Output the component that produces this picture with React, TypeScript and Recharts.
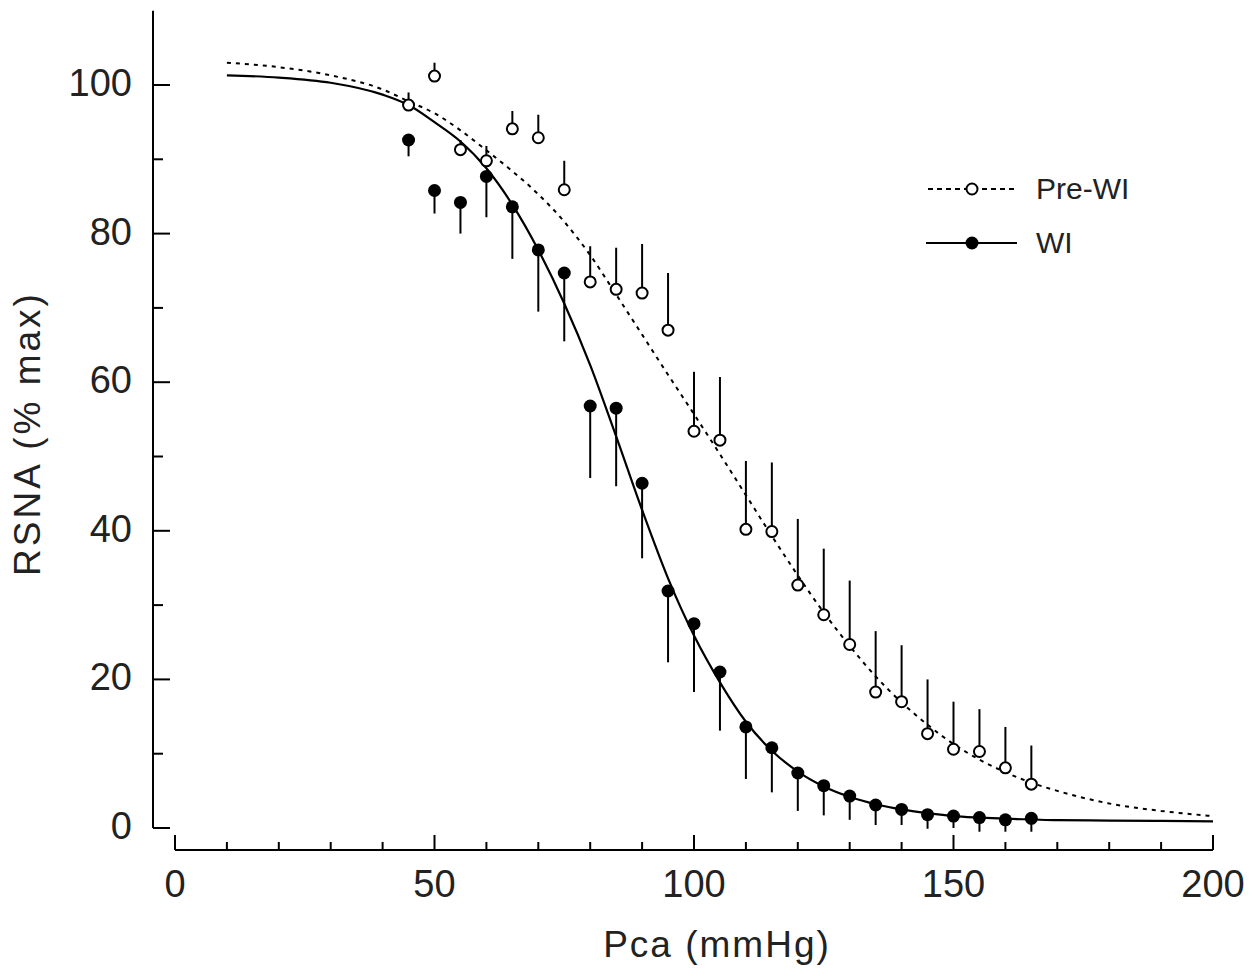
import {
  ComposedChart,
  ErrorBar,
  Line,
  ReferenceLine,
  Scatter,
  XAxis,
  YAxis,
} from "recharts";

const pressures = [45, 50, 55, 60, 65, 70, 75, 80, 85, 90, 95, 100, 105, 110, 115, 120, 125, 130, 135, 140, 145, 150, 155, 160, 165];
const preWiMean = [97.3, 101.2, 91.3, 89.8, 94.1, 92.9, 85.9, 73.5, 72.5, 72.0, 67.0, 53.4, 52.2, 40.2, 39.9, 32.7, 28.7, 24.7, 18.3, 17.0, 12.7, 10.6, 10.3, 8.1, 5.9];
const preWiSe = [1.7, 1.8, 1.3, 2.0, 2.4, 3.1, 3.9, 4.8, 5.6, 6.6, 7.7, 8.0, 8.5, 9.2, 9.3, 8.9, 8.9, 8.6, 8.2, 7.6, 7.3, 6.4, 5.7, 5.5, 5.2];
const wiMean = [92.6, 85.8, 84.2, 87.7, 83.6, 77.8, 74.7, 56.8, 56.5, 46.4, 31.9, 27.5, 21.0, 13.6, 10.8, 7.4, 5.7, 4.3, 3.1, 2.5, 1.8, 1.6, 1.4, 1.1, 1.3];
const wiSe = [2.2, 3.1, 4.2, 5.5, 7.0, 8.3, 9.2, 9.7, 10.5, 10.1, 9.6, 9.2, 7.9, 7.0, 6.0, 5.1, 4.0, 3.2, 2.7, 2.1, 1.9, 1.6, 1.9, 1.6, 1.8];

// fitted curves
const curveX = [10, 20, 30, 40, 45, 50, 55, 60, 65, 70, 75, 80, 85, 90, 95, 100, 105, 110, 115, 120, 125, 130, 135, 140, 145, 150, 155, 160, 165, 170, 180, 190, 200];
const preWiFit = [103.0, 102.4, 101.3, 99.4, 97.8, 96.2, 93.9, 91.2, 88.4, 85.3, 81.6, 77.1, 71.8, 66.4, 61.0, 55.7, 50.3, 44.8, 39.3, 34.0, 29.0, 24.5, 20.4, 16.9, 13.9, 11.3, 9.2, 7.5, 6.1, 5.0, 3.3, 2.3, 1.6];
const wiFit = [101.3, 101.0, 100.3, 98.7, 97.3, 95.0, 92.4, 88.8, 83.9, 77.8, 70.6, 62.3, 52.7, 42.8, 33.6, 25.9, 19.6, 14.3, 10.4, 7.6, 5.6, 4.2, 3.2, 2.5, 2.0, 1.6, 1.4, 1.25, 1.15, 1.05, 1.0, 0.95, 0.9];

const xTicks = [0, 10, 20, 30, 40, 50, 60, 70, 80, 90, 100, 110, 120, 130, 140, 150, 160, 170, 180, 190, 200];
const yTicks = [0, 10, 20, 30, 40, 50, 60, 70, 80, 90, 100];
const seriesNames = ["Pre-WI", "WI"];

const FONT = "'Liberation Sans', Arial, Helvetica, sans-serif";

const preWiPoints = pressures.map((x, i) => ({ x, y: preWiMean[i], err: [0, preWiSe[i]] }));
const wiPoints = pressures.map((x, i) => ({ x, y: wiMean[i], err: [wiSe[i], 0] }));
const preWiCurve = curveX.map((x, i) => ({ x, y: preWiFit[i] }));
const wiCurve = curveX.map((x, i) => ({ x, y: wiFit[i] }));

function XTick({ x, y, payload }: any) {
  const major = payload.value % 50 === 0;
  return (
    <g>
      <line x1={x} x2={x} y1={y} y2={y - (major ? 15 : 8)} stroke="#000" strokeWidth={2} />
      {major && (
        <text x={x} y={y + 47} textAnchor="middle" fontSize={38} fontFamily={FONT} fill="#222">
          {payload.value}
        </text>
      )}
    </g>
  );
}

function YTick({ x, y, payload }: any) {
  const major = payload.value % 20 === 0;
  return (
    <g>
      <line x1={x} x2={x + (major ? 17 : 10)} y1={y} y2={y} stroke="#000" strokeWidth={2} />
      {major && (
        <text x={x - 21} y={y + 11} textAnchor="end" fontSize={38} fontFamily={FONT} fill="#222">
          {payload.value}
        </text>
      )}
    </g>
  );
}

function OpenDot({ cx, cy }: any) {
  return <circle cx={cx} cy={cy} r={5.5} fill="#fff" stroke="#000" strokeWidth={2} />;
}

function FilledDot({ cx, cy }: any) {
  return <circle cx={cx} cy={cy} r={6.5} fill="#000" />;
}

export default function App() {
  return (
    <div style={{ position: "absolute", left: 0, top: 0, width: 1255, height: 976, background: "#fff" }}>
      <ComposedChart
        width={1255}
        height={976}
        margin={{ top: 10.7, right: 42, bottom: 0, left: 0 }}
      >
        <XAxis
          type="number"
          dataKey="x"
          domain={[-4.24, 200]}
          allowDataOverflow
          ticks={xTicks}
          interval={0}
          axisLine={false}
          tickLine={false}
          tickSize={0}
          tickMargin={0}
          height={126}
          tick={<XTick />}
        />
        <YAxis
          type="number"
          dataKey="y"
          domain={[-2.96, 110]}
          allowDataOverflow
          ticks={yTicks}
          interval={0}
          axisLine={false}
          tickLine={false}
          tickSize={0}
          tickMargin={0}
          width={153}
          tick={<YTick />}
        />
        <ReferenceLine
          segment={[{ x: -4.24, y: 0 }, { x: -4.24, y: 110 }]}
          stroke="#000"
          strokeWidth={2}
          ifOverflow="visible"
        />
        <ReferenceLine
          segment={[{ x: 0, y: -2.96 }, { x: 200, y: -2.96 }]}
          stroke="#000"
          strokeWidth={2}
          ifOverflow="visible"
        />
        <Line
          data={preWiCurve}
          dataKey="y"
          type="monotone"
          stroke="#000"
          strokeWidth={2}
          strokeDasharray="4 5"
          dot={false}
          activeDot={false}
          isAnimationActive={false}
        />
        <Line
          data={wiCurve}
          dataKey="y"
          type="monotone"
          stroke="#000"
          strokeWidth={2.2}
          dot={false}
          activeDot={false}
          isAnimationActive={false}
        />
        <Scatter data={preWiPoints} dataKey="y" shape={<OpenDot />} isAnimationActive={false}>
          <ErrorBar dataKey="err" direction="y" width={0} stroke="#000" strokeWidth={2} isAnimationActive={false} />
        </Scatter>
        <Scatter data={wiPoints} dataKey="y" shape={<FilledDot />} isAnimationActive={false}>
          <ErrorBar dataKey="err" direction="y" width={0} stroke="#000" strokeWidth={2} isAnimationActive={false} />
        </Scatter>

        <g fontFamily={FONT} fill="#222">
          <text x={717} y={957} textAnchor="middle" fontSize={37} letterSpacing={2}>
            Pca (mmHg)
          </text>
          <text
            x={0}
            y={0}
            transform="translate(40 433.5) rotate(-90)"
            textAnchor="middle"
            fontSize={37}
            letterSpacing={3}
          >
            RSNA (% max)
          </text>
        </g>

        <g fontFamily={FONT}>
          <line x1={928} x2={1016} y1={189} y2={189} stroke="#000" strokeWidth={2} strokeDasharray="5 4" />
          <circle cx={972} cy={189} r={5.5} fill="#fff" stroke="#000" strokeWidth={2} />
          <text x={1036} y={199} fontSize={30} fill="#222">
            {seriesNames[0]}
          </text>
          <line x1={926} x2={1017} y1={243} y2={243} stroke="#000" strokeWidth={2.2} />
          <circle cx={972} cy={243} r={6.5} fill="#000" />
          <text x={1036} y={253} fontSize={30} fill="#222">
            {seriesNames[1]}
          </text>
        </g>
      </ComposedChart>
    </div>
  );
}
